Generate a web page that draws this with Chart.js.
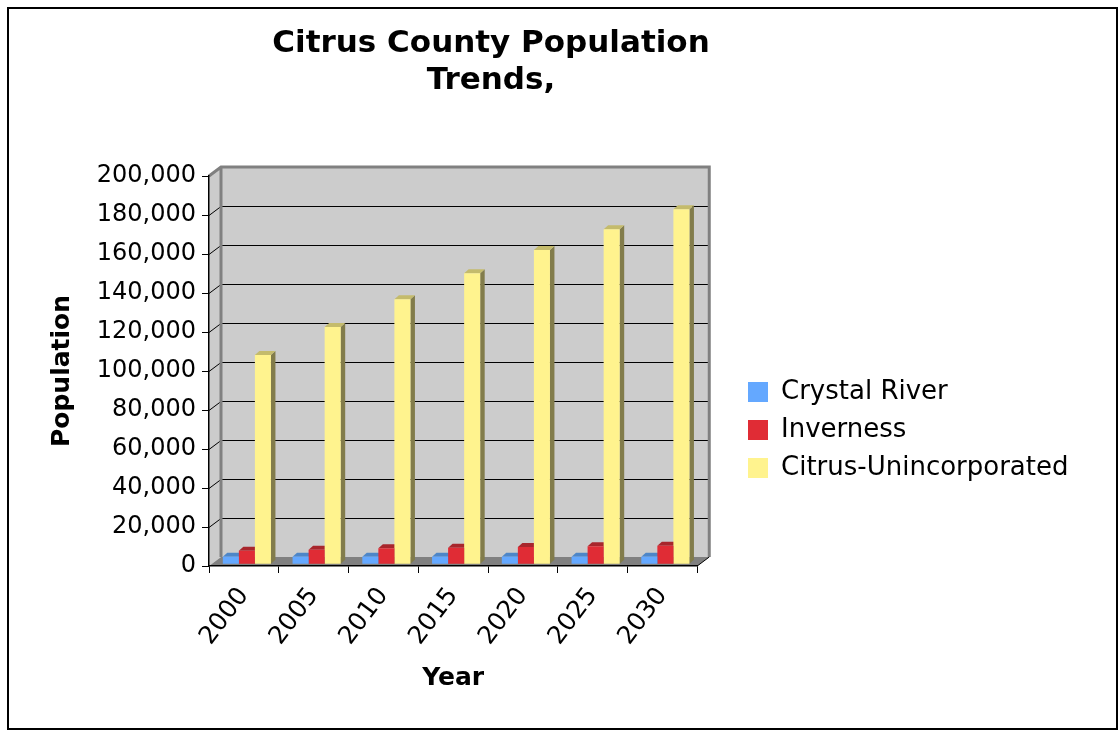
<!DOCTYPE html>
<html>
<head>
<meta charset="utf-8">
<script src="https://cdn.jsdelivr.net/npm/chart.js@4.4.1/dist/chart.umd.min.js"></script>
<style>
  html, body { margin: 0; padding: 0; background: #fff; }
  #wrap { position: relative; width: 1119px; height: 730px; }
  #frame { position: absolute; left: 7px; top: 7px; width: 1111px; height: 723px; box-sizing: border-box; border: 2px solid #000; pointer-events: none; }
  canvas { position: absolute; left: 0; top: 0; }
</style>
</head>
<body>
<div id="wrap">
  <canvas id="c" width="1119" height="730"></canvas>
  <div id="frame"></div>
</div>
<script>
// ---- data ----
const years = ['2000', '2005', '2010', '2015', '2020', '2025', '2030'];
const crystalRiver = [3900, 3900, 3900, 3900, 3900, 3900, 3900];
const inverness = [7000, 7500, 8200, 8500, 8900, 9200, 9500];
const citrusUnincorporated = [107300, 121700, 135900, 149200, 161200, 171800, 182100];
const yTickValues = [0, 20000, 40000, 60000, 80000, 100000, 120000, 140000, 160000, 180000, 200000];
const seriesNames = ['Crystal River', 'Inverness', 'Citrus-Unincorporated'];
const titleLines = ['Citrus County Population', 'Trends,'];

// ---- styles ----
const FONT = "'DejaVu Sans', Verdana, sans-serif";
const frontColors = ['#64a8ff', '#e02c35', '#fff38e'];
const topColors = ['#4d86c8', '#a8262c', '#c4bb6c'];
const sideColors = ['#3b6aa0', '#7e1c20', '#827c4b'];
const DX = 12, DY = 9;          // depth of the 3D walls
const BDX = 4.5, BDY = 4;       // depth of each bar
const MIDX = 3, MIDY = -1.7;    // bars sit at mid depth

const wallPlugin = {
  id: 'wall3d',
  afterLayout(chart) {
    chart.titleBlock.left = 0;
    chart.titleBlock.right = 982;
    const lg = chart.legend;
    lg.left = 736; lg.right = 1110;
    lg.width = lg.right - lg.left;
    lg.top = 168; lg.bottom = 692;
  },
  beforeDraw(chart) {
    const {ctx, chartArea: a, scales: {y}} = chart;
    ctx.save();
    ctx.fillStyle = '#cccccc';
    ctx.fillRect(a.left + DX, a.top - DY, a.right - a.left, a.bottom - a.top);
    ctx.beginPath();
    ctx.moveTo(a.left, a.top);
    ctx.lineTo(a.left + DX, a.top - DY);
    ctx.lineTo(a.left + DX, a.bottom - DY);
    ctx.lineTo(a.left, a.bottom);
    ctx.closePath();
    ctx.fill();
    ctx.fillStyle = '#808080';
    ctx.beginPath();
    ctx.moveTo(a.left, a.bottom);
    ctx.lineTo(a.left + DX, a.bottom - DY);
    ctx.lineTo(a.right + DX, a.bottom - DY);
    ctx.lineTo(a.right, a.bottom);
    ctx.closePath();
    ctx.fill();
    ctx.strokeStyle = '#000';
    ctx.lineWidth = 1;
    yTickValues.forEach(v => {
      if (v === 0 || v === yTickValues[yTickValues.length - 1]) return;
      const py = Math.round(y.getPixelForValue(v)) + 0.5;
      ctx.beginPath();
      ctx.moveTo(a.left, py);
      ctx.lineTo(a.left + DX, py - DY);
      ctx.lineTo(a.right + DX, py - DY);
      ctx.stroke();
    });
    ctx.strokeStyle = '#808080';
    ctx.lineWidth = 3;
    ctx.beginPath();
    ctx.moveTo(a.left, a.top);
    ctx.lineTo(a.left + DX, a.top - DY);
    ctx.lineTo(a.right + DX, a.top - DY);
    ctx.lineTo(a.right + DX, a.bottom - DY);
    ctx.moveTo(a.left + DX, a.top - DY);
    ctx.lineTo(a.left + DX, a.bottom - DY);
    ctx.stroke();
    ctx.strokeStyle = '#000';
    ctx.lineWidth = 1;
    ctx.beginPath();
    ctx.moveTo(a.right, a.bottom);
    ctx.lineTo(a.right + DX, a.bottom - DY);
    ctx.stroke();
    ctx.restore();
  },
  beforeDatasetsDraw(chart) {
    const ctx = chart.ctx;
    ctx.save();
    ctx.translate(MIDX, MIDY);
    chart.data.datasets.forEach((ds, di) => {
      const meta = chart.getDatasetMeta(di);
      meta.data.forEach(bar => {
        const {x, y, base, width} = bar.getProps(['x', 'y', 'base', 'width'], true);
        const l = x - width / 2, r = x + width / 2;
        ctx.fillStyle = sideColors[di];
        ctx.beginPath();
        ctx.moveTo(r, y);
        ctx.lineTo(r + BDX, y - BDY);
        ctx.lineTo(r + BDX, base - BDY);
        ctx.lineTo(r, base);
        ctx.closePath();
        ctx.fill();
        ctx.fillStyle = topColors[di];
        ctx.beginPath();
        ctx.moveTo(l, y);
        ctx.lineTo(l + BDX, y - BDY);
        ctx.lineTo(r + BDX, y - BDY);
        ctx.lineTo(r, y);
        ctx.closePath();
        ctx.fill();
      });
    });
  },
  afterDatasetsDraw(chart) {
    chart.ctx.restore();
  }
};

const chart = new Chart(document.getElementById('c'), {
  type: 'bar',
  data: {
    labels: years,
    datasets: [
      { label: seriesNames[0], data: crystalRiver, backgroundColor: frontColors[0] },
      { label: seriesNames[1], data: inverness, backgroundColor: frontColors[1] },
      { label: seriesNames[2], data: citrusUnincorporated, backgroundColor: frontColors[2] }
    ]
  },
  options: {
    responsive: false,
    animation: false,
    devicePixelRatio: 1,
    layout: { padding: { left: 20, right: 196, top: 0, bottom: 30 } },
    datasets: { bar: { barPercentage: 1.0, categoryPercentage: 0.69, borderWidth: 0 } },
    plugins: {
      title: {
        display: true,
        text: titleLines,
        color: '#000',
        font: { family: FONT, size: 31, weight: 'bold', lineHeight: 1.2 },
        padding: { top: 25, bottom: 76.6 }
      },
      legend: {
        display: true,
        position: 'right',
        labels: {
          color: '#000',
          font: { family: FONT, size: 26 },
          boxWidth: 20,
          boxHeight: 20,
          padding: 12
        }
      },
      tooltip: { enabled: false }
    },
    scales: {
      x: {
        grid: { display: true, drawOnChartArea: false, offset: true, color: '#000', tickLength: 7, lineWidth: 1 },
        border: { display: true, color: '#000', width: 1.5 },
        ticks: { color: '#000', font: { family: FONT, size: 25 }, minRotation: 53, maxRotation: 53, padding: 9 },
        title: { display: true, text: 'Year', color: '#000', font: { family: FONT, size: 25, weight: 'bold' }, padding: { top: 0, bottom: 7 } },
        afterFit(s) { s.height = 134; }
      },
      y: {
        min: 0,
        max: 200000,
        afterBuildTicks(s) { s.ticks = yTickValues.map(v => ({ value: v })); },
        grid: { display: true, drawOnChartArea: false, color: '#000', tickLength: 7, lineWidth: 1 },
        border: { display: true, color: '#000', width: 1.5 },
        ticks: { color: '#000', font: { family: FONT, size: 24 }, padding: 6,
                 callback: v => v.toLocaleString('en-US') },
        title: { display: true, text: 'Population', color: '#000', font: { family: FONT, size: 25, weight: 'bold' }, padding: { top: 27, bottom: 0 } },
        afterFit(s) { s.width = 189; }
      }
    }
  },
  plugins: [wallPlugin]
});
</script>
</body>
</html>
